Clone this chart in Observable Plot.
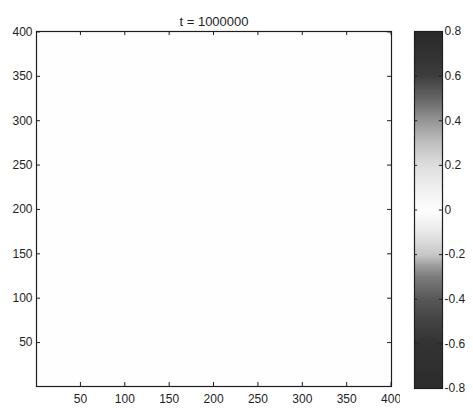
<!DOCTYPE html>
<html>
<head>
<meta charset="utf-8">
<script src="https://cdn.jsdelivr.net/npm/d3@7"></script>
<script src="https://cdn.jsdelivr.net/npm/@observablehq/plot@0.6"></script>
<style>
  html, body { margin: 0; padding: 0; background: #fff; }
  #chart { position: relative; width: 473px; height: 411px; background: #fff; overflow: hidden; }
  #chart svg { position: absolute; top: 0; font-family: "Liberation Sans", Arial, sans-serif; }
</style>
</head>
<body>
<div id="chart"></div>
<script>
// Snapshot title
const titleText = "t = 1000000";

// Field on the 400 x 400 lattice, sampled on a coarse 4 x 4 grid (row-major)
const fieldWidth = 4;
const fieldHeight = 4;
const fieldValues = [
  0, 0, 0, 0,
  0, 0, 0, 0,
  0, 0, 0, 0,
  0, 0, 0, 0
];

// Axis ticks
const xTicks = [50, 100, 150, 200, 250, 300, 350, 400];
const yTicks = [50, 100, 150, 200, 250, 300, 350, 400];

// Colour bar levels and the gray colormap stops
const cbTicks = [-0.8, -0.6, -0.4, -0.2, 0, 0.2, 0.4, 0.6, 0.8];
const cmapStops = [-0.8, -0.6, -0.5, -0.4, -0.3, -0.25, -0.2, -0.1, 0, 0.1, 0.2, 0.3, 0.4, 0.5, 0.6, 0.68, 0.8];
const cmapGrays = ["#2c2c2c", "#333333", "#434343", "#585858", "#7c7c7c", "#9c9c9c", "#c8c8c8", "#e8e8e8", "#fefefe",
                   "#efefef", "#dedede", "#c0c0c0", "#959595", "#656565", "#3e3e3e", "#333333", "#2a2a2a"];

const colorScale = {type: "linear", domain: cmapStops, range: cmapGrays, clamp: true};
const ink = "#1e1e1e";
const fmt = v => v === 0 ? "0" : (v < 0 ? "-" : "") + Math.abs(v).toFixed(1);

// Main image axes
const main = Plot.plot({
  width: 400,
  height: 411,
  marginLeft: 36,
  marginRight: 9,
  marginTop: 31,
  marginBottom: 25,
  style: {background: "transparent", color: ink, fontSize: "12px"},
  x: {domain: [0.5, 400.5], axis: null},
  y: {domain: [0.5, 400.5], axis: null},
  color: colorScale,
  marks: [
    Plot.raster(fieldValues, {
      width: fieldWidth, height: fieldHeight,
      x1: 0.5, x2: 400.5, y1: 400.5, y2: 0.5,
      fill: d => d, imageRendering: "pixelated"
    }),
    // inward ticks on all four sides
    Plot.ruleX(xTicks, {x: d => d, y1: 0.5, y2: 5, stroke: ink}),
    Plot.ruleX(xTicks, {x: d => d, y1: 396, y2: 400.5, stroke: ink}),
    Plot.ruleY(yTicks, {y: d => d, x1: 0.5, x2: 5, stroke: ink}),
    Plot.ruleY(yTicks, {y: d => d, x1: 396, x2: 400.5, stroke: ink}),
    Plot.axisX(xTicks, {tickSize: 0, tickPadding: 8, fontSize: 12, fill: ink}),
    Plot.axisY(yTicks, {tickSize: 0, tickPadding: 4, fontSize: 12, fill: ink}),
    Plot.frame({stroke: ink, strokeWidth: 1.2}),
    Plot.text([titleText], {
      frameAnchor: "top", dy: -15, text: d => d,
      fontSize: 13, fill: ink
    })
  ]
});
main.style.left = "0px";

// Colour bar
const bar = Plot.plot({
  width: 73,
  height: 411,
  marginLeft: 14,
  marginRight: 31,
  marginTop: 31,
  marginBottom: 23,
  style: {background: "transparent", color: ink, fontSize: "12px"},
  x: {domain: [0, 1], axis: null},
  y: {domain: [-0.8, 0.8], axis: null},
  color: colorScale,
  marks: [
    Plot.raster({x1: 0, x2: 1, y1: -0.8, y2: 0.8, fill: (x, y) => y, pixelSize: 1}),
    Plot.ruleY(cbTicks, {y: d => d, x1: 0, x2: 0.11, stroke: ink}),
    Plot.ruleY(cbTicks, {y: d => d, x1: 0.89, x2: 1, stroke: ink}),
    Plot.axisY(cbTicks, {anchor: "right", tickSize: 0, tickPadding: 2, tickFormat: fmt, fontSize: 12, fill: ink}),
    Plot.frame({stroke: ink, strokeWidth: 1.2})
  ]
});
bar.style.left = "400px";

const chart = document.getElementById("chart");
chart.appendChild(main);
chart.appendChild(bar);
</script>
</body>
</html>
